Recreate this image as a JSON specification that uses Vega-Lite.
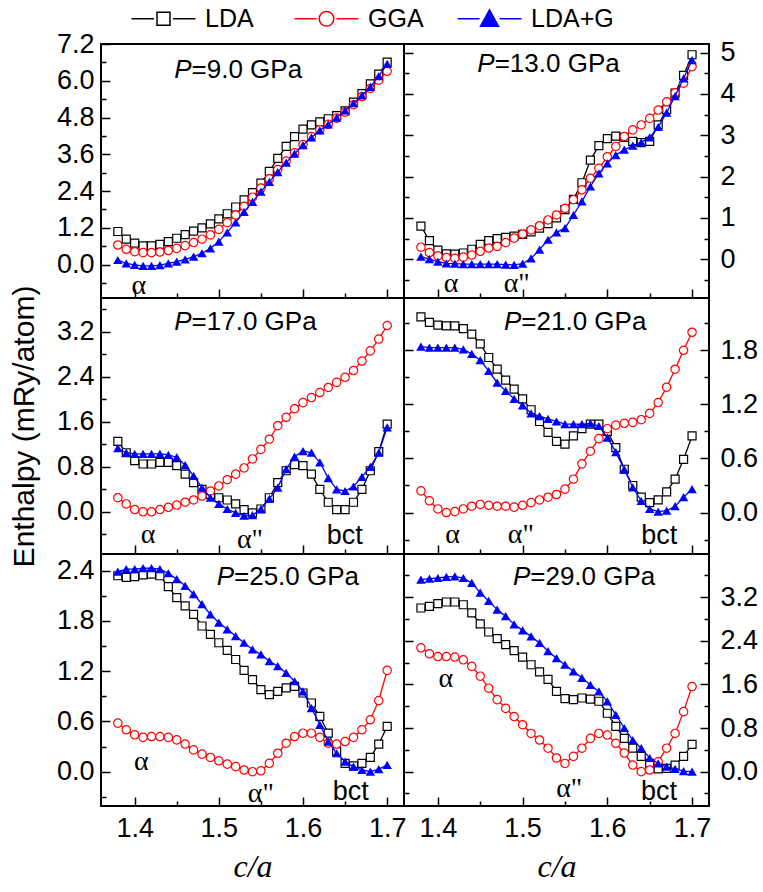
{
  "$schema": "https://vega.github.io/schema/vega-lite/v6.json",
  "padding": {"left": 8, "top": 6, "right": 5, "bottom": 5},
  "background": "white",
  "datasets": {
    "h": [
      {"P":9,"ca":1.38,"LDA":1.08,"GGA":0.64,"LDAG":0.15},{"P":9,"ca":1.39,"LDA":0.83,"GGA":0.50,"LDAG":0.04},{"P":9,"ca":1.40,"LDA":0.70,"GGA":0.42,"LDAG":-0.01},{"P":9,"ca":1.41,"LDA":0.61,"GGA":0.39,"LDAG":-0.04},{"P":9,"ca":1.42,"LDA":0.61,"GGA":0.39,"LDAG":-0.04},{"P":9,"ca":1.43,"LDA":0.66,"GGA":0.41,"LDAG":-0.02},{"P":9,"ca":1.44,"LDA":0.75,"GGA":0.46,"LDAG":0.04},{"P":9,"ca":1.45,"LDA":0.86,"GGA":0.53,"LDAG":0.10},{"P":9,"ca":1.46,"LDA":0.98,"GGA":0.62,"LDAG":0.17},{"P":9,"ca":1.47,"LDA":1.09,"GGA":0.72,"LDAG":0.26},{"P":9,"ca":1.48,"LDA":1.20,"GGA":0.83,"LDAG":0.37},{"P":9,"ca":1.49,"LDA":1.33,"GGA":0.97,"LDAG":0.53},{"P":9,"ca":1.50,"LDA":1.49,"GGA":1.15,"LDAG":0.75},{"P":9,"ca":1.51,"LDA":1.66,"GGA":1.37,"LDAG":1.05},{"P":9,"ca":1.52,"LDA":1.88,"GGA":1.62,"LDAG":1.38},{"P":9,"ca":1.53,"LDA":2.11,"GGA":1.90,"LDAG":1.72},{"P":9,"ca":1.54,"LDA":2.35,"GGA":2.20,"LDAG":2.05},{"P":9,"ca":1.55,"LDA":2.66,"GGA":2.50,"LDAG":2.38},{"P":9,"ca":1.56,"LDA":3.04,"GGA":2.80,"LDAG":2.70},{"P":9,"ca":1.57,"LDA":3.47,"GGA":3.10,"LDAG":3.02},{"P":9,"ca":1.58,"LDA":3.86,"GGA":3.38,"LDAG":3.33},{"P":9,"ca":1.59,"LDA":4.18,"GGA":3.65,"LDAG":3.62},{"P":9,"ca":1.60,"LDA":4.42,"GGA":3.92,"LDAG":3.90},{"P":9,"ca":1.61,"LDA":4.56,"GGA":4.18,"LDAG":4.15},{"P":9,"ca":1.62,"LDA":4.66,"GGA":4.40,"LDAG":4.38},{"P":9,"ca":1.63,"LDA":4.76,"GGA":4.58,"LDAG":4.58},{"P":9,"ca":1.64,"LDA":4.86,"GGA":4.78,"LDAG":4.80},{"P":9,"ca":1.65,"LDA":5.02,"GGA":4.98,"LDAG":5.03},{"P":9,"ca":1.66,"LDA":5.30,"GGA":5.22,"LDAG":5.27},{"P":9,"ca":1.67,"LDA":5.58,"GGA":5.48,"LDAG":5.52},{"P":9,"ca":1.68,"LDA":5.90,"GGA":5.75,"LDAG":5.80},{"P":9,"ca":1.69,"LDA":6.22,"GGA":6.02,"LDAG":6.15},{"P":9,"ca":1.70,"LDA":6.61,"GGA":6.31,"LDAG":6.55},
      {"P":13,"ca":1.38,"LDA":0.80,"GGA":0.29,"LDAG":0.06},{"P":13,"ca":1.39,"LDA":0.45,"GGA":0.16,"LDAG":0.00},{"P":13,"ca":1.40,"LDA":0.22,"GGA":0.08,"LDAG":-0.06},{"P":13,"ca":1.41,"LDA":0.13,"GGA":0.04,"LDAG":-0.10},{"P":13,"ca":1.42,"LDA":0.12,"GGA":0.02,"LDAG":-0.11},{"P":13,"ca":1.43,"LDA":0.15,"GGA":0.05,"LDAG":-0.12},{"P":13,"ca":1.44,"LDA":0.24,"GGA":0.10,"LDAG":-0.12},{"P":13,"ca":1.45,"LDA":0.36,"GGA":0.19,"LDAG":-0.12},{"P":13,"ca":1.46,"LDA":0.45,"GGA":0.27,"LDAG":-0.12},{"P":13,"ca":1.47,"LDA":0.50,"GGA":0.31,"LDAG":-0.12},{"P":13,"ca":1.48,"LDA":0.53,"GGA":0.40,"LDAG":-0.13},{"P":13,"ca":1.49,"LDA":0.56,"GGA":0.51,"LDAG":-0.14},{"P":13,"ca":1.50,"LDA":0.60,"GGA":0.61,"LDAG":-0.11},{"P":13,"ca":1.51,"LDA":0.66,"GGA":0.71,"LDAG":0.02},{"P":13,"ca":1.52,"LDA":0.75,"GGA":0.81,"LDAG":0.23},{"P":13,"ca":1.53,"LDA":0.86,"GGA":0.95,"LDAG":0.47},{"P":13,"ca":1.54,"LDA":1.00,"GGA":1.07,"LDAG":0.65},{"P":13,"ca":1.55,"LDA":1.20,"GGA":1.23,"LDAG":0.75},{"P":13,"ca":1.56,"LDA":1.45,"GGA":1.44,"LDAG":1.07},{"P":13,"ca":1.57,"LDA":1.85,"GGA":1.68,"LDAG":1.40},{"P":13,"ca":1.58,"LDA":2.40,"GGA":1.96,"LDAG":1.76},{"P":13,"ca":1.59,"LDA":2.75,"GGA":2.20,"LDAG":2.08},{"P":13,"ca":1.60,"LDA":2.92,"GGA":2.48,"LDAG":2.32},{"P":13,"ca":1.61,"LDA":2.98,"GGA":2.73,"LDAG":2.52},{"P":13,"ca":1.62,"LDA":2.95,"GGA":2.97,"LDAG":2.65},{"P":13,"ca":1.63,"LDA":2.85,"GGA":3.13,"LDAG":2.75},{"P":13,"ca":1.64,"LDA":2.82,"GGA":3.25,"LDAG":2.83},{"P":13,"ca":1.65,"LDA":2.85,"GGA":3.41,"LDAG":2.95},{"P":13,"ca":1.66,"LDA":3.25,"GGA":3.61,"LDAG":3.20},{"P":13,"ca":1.67,"LDA":3.62,"GGA":3.81,"LDAG":3.55},{"P":13,"ca":1.68,"LDA":4.02,"GGA":4.03,"LDAG":3.95},{"P":13,"ca":1.69,"LDA":4.45,"GGA":4.26,"LDAG":4.38},{"P":13,"ca":1.70,"LDA":4.95,"GGA":4.66,"LDAG":4.82},
      {"P":17,"ca":1.38,"LDA":1.25,"GGA":0.25,"LDAG":1.13},{"P":17,"ca":1.39,"LDA":1.05,"GGA":0.14,"LDAG":1.05},{"P":17,"ca":1.40,"LDA":0.91,"GGA":0.04,"LDAG":1.03},{"P":17,"ca":1.41,"LDA":0.85,"GGA":0.00,"LDAG":1.03},{"P":17,"ca":1.42,"LDA":0.85,"GGA":0.00,"LDAG":1.03},{"P":17,"ca":1.43,"LDA":0.88,"GGA":0.04,"LDAG":1.03},{"P":17,"ca":1.44,"LDA":0.88,"GGA":0.08,"LDAG":1.01},{"P":17,"ca":1.45,"LDA":0.82,"GGA":0.12,"LDAG":0.97},{"P":17,"ca":1.46,"LDA":0.67,"GGA":0.17,"LDAG":0.83},{"P":17,"ca":1.47,"LDA":0.52,"GGA":0.21,"LDAG":0.64},{"P":17,"ca":1.48,"LDA":0.40,"GGA":0.28,"LDAG":0.43},{"P":17,"ca":1.49,"LDA":0.31,"GGA":0.37,"LDAG":0.25},{"P":17,"ca":1.50,"LDA":0.25,"GGA":0.46,"LDAG":0.14},{"P":17,"ca":1.51,"LDA":0.21,"GGA":0.57,"LDAG":0.05},{"P":17,"ca":1.52,"LDA":0.14,"GGA":0.67,"LDAG":-0.02},{"P":17,"ca":1.53,"LDA":0.04,"GGA":0.78,"LDAG":-0.07},{"P":17,"ca":1.54,"LDA":-0.02,"GGA":0.94,"LDAG":-0.06},{"P":17,"ca":1.55,"LDA":0.05,"GGA":1.11,"LDAG":0.05},{"P":17,"ca":1.56,"LDA":0.25,"GGA":1.29,"LDAG":0.23},{"P":17,"ca":1.57,"LDA":0.52,"GGA":1.53,"LDAG":0.43},{"P":17,"ca":1.58,"LDA":0.73,"GGA":1.68,"LDAG":0.76},{"P":17,"ca":1.59,"LDA":0.84,"GGA":1.83,"LDAG":0.98},{"P":17,"ca":1.60,"LDA":0.82,"GGA":1.94,"LDAG":1.08},{"P":17,"ca":1.61,"LDA":0.67,"GGA":2.03,"LDAG":1.05},{"P":17,"ca":1.62,"LDA":0.40,"GGA":2.12,"LDAG":0.88},{"P":17,"ca":1.63,"LDA":0.17,"GGA":2.21,"LDAG":0.60},{"P":17,"ca":1.64,"LDA":0.04,"GGA":2.30,"LDAG":0.40},{"P":17,"ca":1.65,"LDA":0.04,"GGA":2.39,"LDAG":0.37},{"P":17,"ca":1.66,"LDA":0.17,"GGA":2.51,"LDAG":0.45},{"P":17,"ca":1.67,"LDA":0.40,"GGA":2.68,"LDAG":0.62},{"P":17,"ca":1.68,"LDA":0.73,"GGA":2.86,"LDAG":0.80},{"P":17,"ca":1.69,"LDA":1.07,"GGA":3.07,"LDAG":1.05},{"P":17,"ca":1.70,"LDA":1.56,"GGA":3.31,"LDAG":1.50},
      {"P":21,"ca":1.38,"LDA":2.17,"GGA":0.24,"LDAG":1.84},{"P":21,"ca":1.39,"LDA":2.11,"GGA":0.13,"LDAG":1.83},{"P":21,"ca":1.40,"LDA":2.08,"GGA":0.04,"LDAG":1.83},{"P":21,"ca":1.41,"LDA":2.07,"GGA":0.00,"LDAG":1.83},{"P":21,"ca":1.42,"LDA":2.07,"GGA":0.01,"LDAG":1.83},{"P":21,"ca":1.43,"LDA":2.04,"GGA":0.04,"LDAG":1.81},{"P":21,"ca":1.44,"LDA":1.98,"GGA":0.07,"LDAG":1.76},{"P":21,"ca":1.45,"LDA":1.87,"GGA":0.09,"LDAG":1.69},{"P":21,"ca":1.46,"LDA":1.72,"GGA":0.08,"LDAG":1.57},{"P":21,"ca":1.47,"LDA":1.59,"GGA":0.07,"LDAG":1.44},{"P":21,"ca":1.48,"LDA":1.47,"GGA":0.07,"LDAG":1.35},{"P":21,"ca":1.49,"LDA":1.37,"GGA":0.06,"LDAG":1.26},{"P":21,"ca":1.50,"LDA":1.26,"GGA":0.08,"LDAG":1.19},{"P":21,"ca":1.51,"LDA":1.14,"GGA":0.11,"LDAG":1.10},{"P":21,"ca":1.52,"LDA":1.01,"GGA":0.14,"LDAG":1.07},{"P":21,"ca":1.53,"LDA":0.89,"GGA":0.17,"LDAG":1.04},{"P":21,"ca":1.54,"LDA":0.79,"GGA":0.20,"LDAG":1.01},{"P":21,"ca":1.55,"LDA":0.76,"GGA":0.26,"LDAG":0.98},{"P":21,"ca":1.56,"LDA":0.85,"GGA":0.37,"LDAG":0.98},{"P":21,"ca":1.57,"LDA":0.93,"GGA":0.54,"LDAG":0.98},{"P":21,"ca":1.58,"LDA":0.98,"GGA":0.68,"LDAG":0.99},{"P":21,"ca":1.59,"LDA":0.98,"GGA":0.82,"LDAG":0.96},{"P":21,"ca":1.60,"LDA":0.90,"GGA":0.93,"LDAG":0.83},{"P":21,"ca":1.61,"LDA":0.72,"GGA":0.97,"LDAG":0.67},{"P":21,"ca":1.62,"LDA":0.48,"GGA":0.99,"LDAG":0.48},{"P":21,"ca":1.63,"LDA":0.30,"GGA":1.00,"LDAG":0.28},{"P":21,"ca":1.64,"LDA":0.17,"GGA":1.03,"LDAG":0.13},{"P":21,"ca":1.65,"LDA":0.11,"GGA":1.10,"LDAG":0.04},{"P":21,"ca":1.66,"LDA":0.14,"GGA":1.22,"LDAG":0.01},{"P":21,"ca":1.67,"LDA":0.23,"GGA":1.39,"LDAG":0.02},{"P":21,"ca":1.68,"LDA":0.37,"GGA":1.59,"LDAG":0.07},{"P":21,"ca":1.69,"LDA":0.59,"GGA":1.80,"LDAG":0.17},{"P":21,"ca":1.70,"LDA":0.85,"GGA":2.00,"LDAG":0.26},
      {"P":25,"ca":1.38,"LDA":2.34,"GGA":0.58,"LDAG":2.39},{"P":25,"ca":1.39,"LDA":2.32,"GGA":0.50,"LDAG":2.42},{"P":25,"ca":1.40,"LDA":2.33,"GGA":0.44,"LDAG":2.42},{"P":25,"ca":1.41,"LDA":2.35,"GGA":0.41,"LDAG":2.43},{"P":25,"ca":1.42,"LDA":2.36,"GGA":0.42,"LDAG":2.43},{"P":25,"ca":1.43,"LDA":2.34,"GGA":0.42,"LDAG":2.42},{"P":25,"ca":1.44,"LDA":2.21,"GGA":0.41,"LDAG":2.37},{"P":25,"ca":1.45,"LDA":2.08,"GGA":0.38,"LDAG":2.30},{"P":25,"ca":1.46,"LDA":1.98,"GGA":0.33,"LDAG":2.22},{"P":25,"ca":1.47,"LDA":1.88,"GGA":0.26,"LDAG":2.12},{"P":25,"ca":1.48,"LDA":1.74,"GGA":0.21,"LDAG":2.00},{"P":25,"ca":1.49,"LDA":1.64,"GGA":0.17,"LDAG":1.88},{"P":25,"ca":1.50,"LDA":1.54,"GGA":0.13,"LDAG":1.78},{"P":25,"ca":1.51,"LDA":1.45,"GGA":0.09,"LDAG":1.70},{"P":25,"ca":1.52,"LDA":1.34,"GGA":0.06,"LDAG":1.62},{"P":25,"ca":1.53,"LDA":1.21,"GGA":0.02,"LDAG":1.54},{"P":25,"ca":1.54,"LDA":1.10,"GGA":0.00,"LDAG":1.46},{"P":25,"ca":1.55,"LDA":0.98,"GGA":0.01,"LDAG":1.40},{"P":25,"ca":1.56,"LDA":0.92,"GGA":0.10,"LDAG":1.32},{"P":25,"ca":1.57,"LDA":0.96,"GGA":0.22,"LDAG":1.26},{"P":25,"ca":1.58,"LDA":1.00,"GGA":0.34,"LDAG":1.18},{"P":25,"ca":1.59,"LDA":1.02,"GGA":0.42,"LDAG":1.08},{"P":25,"ca":1.60,"LDA":0.94,"GGA":0.46,"LDAG":0.96},{"P":25,"ca":1.61,"LDA":0.82,"GGA":0.46,"LDAG":0.76},{"P":25,"ca":1.62,"LDA":0.66,"GGA":0.41,"LDAG":0.56},{"P":25,"ca":1.63,"LDA":0.46,"GGA":0.34,"LDAG":0.36},{"P":25,"ca":1.64,"LDA":0.24,"GGA":0.33,"LDAG":0.22},{"P":25,"ca":1.65,"LDA":0.10,"GGA":0.36,"LDAG":0.12},{"P":25,"ca":1.66,"LDA":0.07,"GGA":0.41,"LDAG":0.06},{"P":25,"ca":1.67,"LDA":0.10,"GGA":0.50,"LDAG":0.02},{"P":25,"ca":1.68,"LDA":0.17,"GGA":0.62,"LDAG":0.00},{"P":25,"ca":1.69,"LDA":0.33,"GGA":0.85,"LDAG":0.03},{"P":25,"ca":1.70,"LDA":0.54,"GGA":1.21,"LDAG":0.08},
      {"P":29,"ca":1.38,"LDA":3.00,"GGA":2.27,"LDAG":3.52},{"P":29,"ca":1.39,"LDA":3.03,"GGA":2.16,"LDAG":3.54},{"P":29,"ca":1.40,"LDA":3.08,"GGA":2.11,"LDAG":3.55},{"P":29,"ca":1.41,"LDA":3.11,"GGA":2.11,"LDAG":3.57},{"P":29,"ca":1.42,"LDA":3.11,"GGA":2.10,"LDAG":3.58},{"P":29,"ca":1.43,"LDA":3.06,"GGA":2.05,"LDAG":3.55},{"P":29,"ca":1.44,"LDA":2.91,"GGA":1.93,"LDAG":3.46},{"P":29,"ca":1.45,"LDA":2.71,"GGA":1.75,"LDAG":3.28},{"P":29,"ca":1.46,"LDA":2.56,"GGA":1.53,"LDAG":3.13},{"P":29,"ca":1.47,"LDA":2.44,"GGA":1.32,"LDAG":2.97},{"P":29,"ca":1.48,"LDA":2.33,"GGA":1.16,"LDAG":2.85},{"P":29,"ca":1.49,"LDA":2.22,"GGA":1.01,"LDAG":2.70},{"P":29,"ca":1.50,"LDA":2.10,"GGA":0.86,"LDAG":2.59},{"P":29,"ca":1.51,"LDA":1.96,"GGA":0.70,"LDAG":2.48},{"P":29,"ca":1.52,"LDA":1.83,"GGA":0.58,"LDAG":2.36},{"P":29,"ca":1.53,"LDA":1.69,"GGA":0.43,"LDAG":2.21},{"P":29,"ca":1.54,"LDA":1.47,"GGA":0.25,"LDAG":2.08},{"P":29,"ca":1.55,"LDA":1.34,"GGA":0.15,"LDAG":1.96},{"P":29,"ca":1.56,"LDA":1.32,"GGA":0.28,"LDAG":1.84},{"P":29,"ca":1.57,"LDA":1.35,"GGA":0.43,"LDAG":1.72},{"P":29,"ca":1.58,"LDA":1.33,"GGA":0.61,"LDAG":1.59},{"P":29,"ca":1.59,"LDA":1.29,"GGA":0.70,"LDAG":1.47},{"P":29,"ca":1.60,"LDA":1.07,"GGA":0.67,"LDAG":1.29},{"P":29,"ca":1.61,"LDA":0.83,"GGA":0.52,"LDAG":1.04},{"P":29,"ca":1.62,"LDA":0.61,"GGA":0.34,"LDAG":0.80},{"P":29,"ca":1.63,"LDA":0.43,"GGA":0.12,"LDAG":0.58},{"P":29,"ca":1.64,"LDA":0.28,"GGA":0.00,"LDAG":0.43},{"P":29,"ca":1.65,"LDA":0.15,"GGA":0.03,"LDAG":0.25},{"P":29,"ca":1.66,"LDA":0.05,"GGA":0.18,"LDAG":0.15},{"P":29,"ca":1.67,"LDA":0.06,"GGA":0.43,"LDAG":0.09},{"P":29,"ca":1.68,"LDA":0.12,"GGA":0.70,"LDAG":0.05},{"P":29,"ca":1.69,"LDA":0.28,"GGA":1.10,"LDAG":0.01},{"P":29,"ca":1.70,"LDA":0.50,"GGA":1.56,"LDAG":0.00}
    ],
    "labels": [
      {"P":9,"ca":1.405,"H":-0.69,"t":"α","f":"g"},
      {"P":13,"ca":1.4155,"H":-0.59,"t":"α","f":"g"},
      {"P":13,"ca":1.493,"H":-0.59,"t":"α\"","f":"g"},
      {"P":17,"ca":1.416,"H":-0.42,"t":"α","f":"g"},
      {"P":17,"ca":1.537,"H":-0.50,"t":"α\"","f":"g"},
      {"P":17,"ca":1.6496,"H":-0.43,"t":"bct","f":"s"},
      {"P":21,"ca":1.4173,"H":-0.25,"t":"α","f":"g"},
      {"P":21,"ca":1.498,"H":-0.25,"t":"α\"","f":"g"},
      {"P":21,"ca":1.6614,"H":-0.26,"t":"bct","f":"s"},
      {"P":25,"ca":1.408,"H":0.11,"t":"α","f":"g"},
      {"P":25,"ca":1.55,"H":-0.27,"t":"α\"","f":"g"},
      {"P":25,"ca":1.6567,"H":-0.24,"t":"bct","f":"s"},
      {"P":29,"ca":1.4093,"H":1.70,"t":"α","f":"g"},
      {"P":29,"ca":1.555,"H":-0.32,"t":"α\"","f":"g"},
      {"P":29,"ca":1.661,"H":-0.37,"t":"bct","f":"s"}
    ],
    "titles": [
      {"P":9,"ca":1.4676,"H":6.36,"v":"=9.0 GPa"},
      {"P":13,"ca":1.467,"H":4.73,"v":"=13.0 GPa"},
      {"P":17,"ca":1.4676,"H":3.37,"v":"=17.0 GPa"},
      {"P":21,"ca":1.4985,"H":2.11,"v":"=21.0 GPa"},
      {"P":25,"ca":1.518,"H":2.32,"v":"=25.0 GPa"},
      {"P":29,"ca":1.509,"H":3.56,"v":"=29.0 GPa"}
    ]
  },
  "config": {
    "view": {"stroke": "#000000", "strokeWidth": 2},
    "font": "Liberation Sans",
    "axis": {
      "domain": false, "grid": false, "tickColor": "#000000", "tickWidth": 1.5,
      "labelFont": "Liberation Sans", "labelFontSize": 27, "labelColor": "#000000",
      "labelOverlap": false, "labelFlush": false, "labelBound": false,
      "titleColor": "#000000", "titleFontWeight": "normal"
    },
    "text": {"color": "#000000"}
  },
  "columns": 2,
  "spacing": 0,
  "bounds": "flush",
  "concat": [
    {
      "width": 303, "height": 254,
      "data": {"name": "h"},
      "transform": [{"filter": "datum.P === 9"}],
      "resolve": {"axis": {"y": "independent"}},
      "layer": [
        {"mark": {"type": "line", "strokeWidth": 1.3},
         "encoding": {
           "x": {"field": "ca", "type": "quantitative", "scale": {"domain": [1.36, 1.72], "nice": false, "zero": false},
                 "axis": {"values": [1.4,1.45,1.5,1.55,1.6,1.65,1.7], "labels": false, "title": null,
                          "tickSize": {"condition": {"test": "abs(datum.value*10-round(datum.value*10))<0.01", "value": -9}, "value": -5}}},
           "y": {"field": "LDA", "type": "quantitative", "scale": {"domain": [-1.09, 7.2], "nice": false, "zero": false},
                 "axis": {"values": [-0.6,0,0.6,1.2,1.8,2.4,3,3.6,4.2,4.8,5.4,6,6.6,7.2], "title": null, "labelPadding": 16,
                          "labelExpr": "abs(datum.value/1.2-round(datum.value/1.2))<0.01 ? format(datum.value,'.1f') : ''",
                          "tickSize": {"condition": {"test": "abs(datum.value/1.2-round(datum.value/1.2))<0.01", "value": -9}, "value": -5}}},
           "color": {"datum": "LDA",
                     "scale": {"domain": ["LDA", "GGA", "LDA+G"], "range": ["#000000", "#ff0000", "#0000ff"]},
                     "legend": {"orient": "none", "legendX": 50, "legendY": -38, "direction": "horizontal", "columns": 3, "gridAlign": "all", "title": null,
                                "symbolSize": 400, "symbolStrokeWidth": 1.5, "labelFontSize": 25, "labelFont": "Liberation Sans",
                                "labelColor": "#000000", "labelOffset": 29, "columnPadding": 3,
                                "encode": {"symbols": {"update": {
                                  "shape": {"signal": "datum.value === 'LDA' ? 'M-3.2,0H-0.95M0.95,0H3.2M-0.65,-0.65H0.65V0.65H-0.65ZM-0.65,-0.65V0.65H0.65V-0.65Z' : datum.value === 'GGA' ? 'M-3.2,0H-1M1,0H3.2M0.73,0A0.73,0.73 0 1,1 -0.73,0A0.73,0.73 0 1,1 0.73,0ZM0.73,0A0.73,0.73 0 1,0 -0.73,0A0.73,0.73 0 1,0 0.73,0Z' : 'M-3.2,0H-1M1,0H3.2M0,-0.9L0.9,0.75H-0.9Z'"}}}}}}
         }},
        {"mark": {"type": "point", "shape": "square", "filled": false, "fill": "#ffffff", "size": 64, "strokeWidth": 1.2, "opacity": 1},
         "encoding": {"x": {"field": "ca", "type": "quantitative"}, "y": {"field": "LDA", "type": "quantitative", "axis": null}, "color": {"datum": "LDA"}}},
        {"mark": {"type": "line", "strokeWidth": 1.3},
         "encoding": {"x": {"field": "ca", "type": "quantitative"}, "y": {"field": "GGA", "type": "quantitative", "axis": null}, "color": {"datum": "GGA"}}},
        {"mark": {"type": "point", "shape": "circle", "filled": false, "fill": "#ffffff", "size": 70, "strokeWidth": 1.2, "opacity": 1},
         "encoding": {"x": {"field": "ca", "type": "quantitative"}, "y": {"field": "GGA", "type": "quantitative", "axis": null}, "color": {"datum": "GGA"}}},
        {"mark": {"type": "line", "strokeWidth": 1.3},
         "encoding": {"x": {"field": "ca", "type": "quantitative"}, "y": {"field": "LDAG", "type": "quantitative", "axis": null}, "color": {"datum": "LDA+G"}}},
        {"mark": {"type": "point", "shape": "triangle-up", "filled": true, "size": 90, "opacity": 1},
         "encoding": {"x": {"field": "ca", "type": "quantitative"}, "y": {"field": "LDAG", "type": "quantitative", "axis": null}, "color": {"datum": "LDA+G"}}},
        {"data": {"name": "labels"}, "transform": [{"filter": "datum.P === 9 && datum.f === 'g'"}],
         "mark": {"type": "text", "font": "Liberation Serif", "fontSize": 28, "baseline": "middle"},
         "encoding": {"x": {"field": "ca", "type": "quantitative"}, "y": {"field": "H", "type": "quantitative", "axis": null}, "text": {"field": "t"}}},
        {"data": {"name": "titles"}, "transform": [{"filter": "datum.P === 9"}],
         "mark": {"type": "text", "text": "P", "fontStyle": "italic", "align": "right", "baseline": "middle", "fontSize": 26},
         "encoding": {"x": {"field": "ca", "type": "quantitative"}, "y": {"field": "H", "type": "quantitative", "axis": null}}},
        {"data": {"name": "titles"}, "transform": [{"filter": "datum.P === 9"}],
         "mark": {"type": "text", "align": "left", "baseline": "middle", "fontSize": 26},
         "encoding": {"x": {"field": "ca", "type": "quantitative"}, "y": {"field": "H", "type": "quantitative", "axis": null}, "text": {"field": "v"}}}
      ]
    },
    {
      "width": 305, "height": 254,
      "data": {"name": "h"},
      "transform": [{"filter": "datum.P === 13"}],
      "resolve": {"axis": {"y": "independent"}},
      "layer": [
        {"mark": {"type": "line", "strokeWidth": 1.3},
         "encoding": {
           "x": {"field": "ca", "type": "quantitative", "scale": {"domain": [1.36, 1.72], "nice": false, "zero": false},
                 "axis": {"values": [1.4,1.45,1.5,1.55,1.6,1.65,1.7], "labels": false, "title": null,
                          "tickSize": {"condition": {"test": "abs(datum.value*10-round(datum.value*10))<0.01", "value": -9}, "value": -5}}},
           "y": {"field": "LDA", "type": "quantitative", "scale": {"domain": [-0.94, 5.21], "nice": false, "zero": false},
                 "axis": {"orient": "right", "values": [-0.5,0,0.5,1,1.5,2,2.5,3,3.5,4,4.5,5], "title": null, "labelPadding": 20,
                          "labelExpr": "abs(datum.value-round(datum.value))<0.01 ? format(datum.value,'d') : ''",
                          "tickSize": {"condition": {"test": "abs(datum.value-round(datum.value))<0.01", "value": -9}, "value": -5}}},
           "color": {"datum": "LDA"}
         }},
        {"mark": {"type": "point", "shape": "square", "filled": false, "fill": "#ffffff", "size": 64, "strokeWidth": 1.2, "opacity": 1},
         "encoding": {"x": {"field": "ca", "type": "quantitative"}, "y": {"field": "LDA", "type": "quantitative", "axis": null}, "color": {"datum": "LDA"}}},
        {"mark": {"type": "line", "strokeWidth": 1.3},
         "encoding": {"x": {"field": "ca", "type": "quantitative"},
                      "y": {"field": "GGA", "type": "quantitative",
                            "axis": {"orient": "left", "values": [-0.5,0,0.5,1,1.5,2,2.5,3,3.5,4,4.5,5], "title": null, "labels": false,
                                     "tickSize": {"condition": {"test": "abs(datum.value-round(datum.value))<0.01", "value": -9}, "value": -5}}},
                      "color": {"datum": "GGA"}}},
        {"mark": {"type": "point", "shape": "circle", "filled": false, "fill": "#ffffff", "size": 70, "strokeWidth": 1.2, "opacity": 1},
         "encoding": {"x": {"field": "ca", "type": "quantitative"}, "y": {"field": "GGA", "type": "quantitative", "axis": null}, "color": {"datum": "GGA"}}},
        {"mark": {"type": "line", "strokeWidth": 1.3},
         "encoding": {"x": {"field": "ca", "type": "quantitative"}, "y": {"field": "LDAG", "type": "quantitative", "axis": null}, "color": {"datum": "LDA+G"}}},
        {"mark": {"type": "point", "shape": "triangle-up", "filled": true, "size": 90, "opacity": 1},
         "encoding": {"x": {"field": "ca", "type": "quantitative"}, "y": {"field": "LDAG", "type": "quantitative", "axis": null}, "color": {"datum": "LDA+G"}}},
        {"data": {"name": "labels"}, "transform": [{"filter": "datum.P === 13 && datum.f === 'g'"}],
         "mark": {"type": "text", "font": "Liberation Serif", "fontSize": 28, "baseline": "middle"},
         "encoding": {"x": {"field": "ca", "type": "quantitative"}, "y": {"field": "H", "type": "quantitative", "axis": null}, "text": {"field": "t"}}},
        {"data": {"name": "titles"}, "transform": [{"filter": "datum.P === 13"}],
         "mark": {"type": "text", "text": "P", "fontStyle": "italic", "align": "right", "baseline": "middle", "fontSize": 26},
         "encoding": {"x": {"field": "ca", "type": "quantitative"}, "y": {"field": "H", "type": "quantitative", "axis": null}}},
        {"data": {"name": "titles"}, "transform": [{"filter": "datum.P === 13"}],
         "mark": {"type": "text", "align": "left", "baseline": "middle", "fontSize": 26},
         "encoding": {"x": {"field": "ca", "type": "quantitative"}, "y": {"field": "H", "type": "quantitative", "axis": null}, "text": {"field": "v"}}}
      ]
    },
    {
      "width": 303, "height": 256,
      "data": {"name": "h"},
      "transform": [{"filter": "datum.P === 17"}],
      "resolve": {"axis": {"y": "independent"}},
      "layer": [
        {"mark": {"type": "line", "strokeWidth": 1.3},
         "encoding": {
           "x": {"field": "ca", "type": "quantitative", "scale": {"domain": [1.36, 1.72], "nice": false, "zero": false},
                 "axis": {"values": [1.4,1.45,1.5,1.55,1.6,1.65,1.7], "labels": false, "title": null,
                          "tickSize": {"condition": {"test": "abs(datum.value*10-round(datum.value*10))<0.01", "value": -9}, "value": -5}}},
           "y": {"field": "LDA", "type": "quantitative", "scale": {"domain": [-0.75, 3.8], "nice": false, "zero": false},
                 "axis": {"values": [-0.4,0,0.4,0.8,1.2,1.6,2,2.4,2.8,3.2,3.6], "labelPadding": 16,
                          "title": "Enthalpy (mRy/atom)", "titleFont": "Liberation Sans", "titleFontSize": 30, "titlePadding": 17,
                          "labelExpr": "abs(datum.value/0.8-round(datum.value/0.8))<0.01 ? format(datum.value,'.1f') : ''",
                          "tickSize": {"condition": {"test": "abs(datum.value/0.8-round(datum.value/0.8))<0.01", "value": -9}, "value": -5}}},
           "color": {"datum": "LDA"}
         }},
        {"mark": {"type": "point", "shape": "square", "filled": false, "fill": "#ffffff", "size": 64, "strokeWidth": 1.2, "opacity": 1},
         "encoding": {"x": {"field": "ca", "type": "quantitative"}, "y": {"field": "LDA", "type": "quantitative", "axis": null}, "color": {"datum": "LDA"}}},
        {"mark": {"type": "line", "strokeWidth": 1.3},
         "encoding": {"x": {"field": "ca", "type": "quantitative"}, "y": {"field": "GGA", "type": "quantitative", "axis": null}, "color": {"datum": "GGA"}}},
        {"mark": {"type": "point", "shape": "circle", "filled": false, "fill": "#ffffff", "size": 70, "strokeWidth": 1.2, "opacity": 1},
         "encoding": {"x": {"field": "ca", "type": "quantitative"}, "y": {"field": "GGA", "type": "quantitative", "axis": null}, "color": {"datum": "GGA"}}},
        {"mark": {"type": "line", "strokeWidth": 1.3},
         "encoding": {"x": {"field": "ca", "type": "quantitative"}, "y": {"field": "LDAG", "type": "quantitative", "axis": null}, "color": {"datum": "LDA+G"}}},
        {"mark": {"type": "point", "shape": "triangle-up", "filled": true, "size": 90, "opacity": 1},
         "encoding": {"x": {"field": "ca", "type": "quantitative"}, "y": {"field": "LDAG", "type": "quantitative", "axis": null}, "color": {"datum": "LDA+G"}}},
        {"data": {"name": "labels"}, "transform": [{"filter": "datum.P === 17 && datum.f === 'g'"}],
         "mark": {"type": "text", "font": "Liberation Serif", "fontSize": 28, "baseline": "middle"},
         "encoding": {"x": {"field": "ca", "type": "quantitative"}, "y": {"field": "H", "type": "quantitative", "axis": null}, "text": {"field": "t"}}},
        {"data": {"name": "labels"}, "transform": [{"filter": "datum.P === 17 && datum.f === 's'"}],
         "mark": {"type": "text", "fontSize": 27, "baseline": "middle"},
         "encoding": {"x": {"field": "ca", "type": "quantitative"}, "y": {"field": "H", "type": "quantitative", "axis": null}, "text": {"field": "t"}}},
        {"data": {"name": "titles"}, "transform": [{"filter": "datum.P === 17"}],
         "mark": {"type": "text", "text": "P", "fontStyle": "italic", "align": "right", "baseline": "middle", "fontSize": 26},
         "encoding": {"x": {"field": "ca", "type": "quantitative"}, "y": {"field": "H", "type": "quantitative", "axis": null}}},
        {"data": {"name": "titles"}, "transform": [{"filter": "datum.P === 17"}],
         "mark": {"type": "text", "align": "left", "baseline": "middle", "fontSize": 26},
         "encoding": {"x": {"field": "ca", "type": "quantitative"}, "y": {"field": "H", "type": "quantitative", "axis": null}, "text": {"field": "v"}}}
      ]
    },
    {
      "width": 305, "height": 256,
      "data": {"name": "h"},
      "transform": [{"filter": "datum.P === 21"}],
      "resolve": {"axis": {"y": "independent"}},
      "layer": [
        {"mark": {"type": "line", "strokeWidth": 1.3},
         "encoding": {
           "x": {"field": "ca", "type": "quantitative", "scale": {"domain": [1.36, 1.72], "nice": false, "zero": false},
                 "axis": {"values": [1.4,1.45,1.5,1.55,1.6,1.65,1.7], "labels": false, "title": null,
                          "tickSize": {"condition": {"test": "abs(datum.value*10-round(datum.value*10))<0.01", "value": -9}, "value": -5}}},
           "y": {"field": "LDA", "type": "quantitative", "scale": {"domain": [-0.46, 2.38], "nice": false, "zero": false},
                 "axis": {"orient": "right", "values": [-0.3,0,0.3,0.6,0.9,1.2,1.5,1.8,2.1], "title": null, "labelPadding": 20,
                          "labelExpr": "abs(datum.value/0.6-round(datum.value/0.6))<0.01 ? format(datum.value,'.1f') : ''",
                          "tickSize": {"condition": {"test": "abs(datum.value/0.6-round(datum.value/0.6))<0.01", "value": -9}, "value": -5}}},
           "color": {"datum": "LDA"}
         }},
        {"mark": {"type": "point", "shape": "square", "filled": false, "fill": "#ffffff", "size": 64, "strokeWidth": 1.2, "opacity": 1},
         "encoding": {"x": {"field": "ca", "type": "quantitative"}, "y": {"field": "LDA", "type": "quantitative", "axis": null}, "color": {"datum": "LDA"}}},
        {"mark": {"type": "line", "strokeWidth": 1.3},
         "encoding": {"x": {"field": "ca", "type": "quantitative"},
                      "y": {"field": "GGA", "type": "quantitative",
                            "axis": {"orient": "left", "values": [-0.3,0,0.3,0.6,0.9,1.2,1.5,1.8,2.1], "title": null, "labels": false,
                                     "tickSize": {"condition": {"test": "abs(datum.value/0.6-round(datum.value/0.6))<0.01", "value": -9}, "value": -5}}},
                      "color": {"datum": "GGA"}}},
        {"mark": {"type": "point", "shape": "circle", "filled": false, "fill": "#ffffff", "size": 70, "strokeWidth": 1.2, "opacity": 1},
         "encoding": {"x": {"field": "ca", "type": "quantitative"}, "y": {"field": "GGA", "type": "quantitative", "axis": null}, "color": {"datum": "GGA"}}},
        {"mark": {"type": "line", "strokeWidth": 1.3},
         "encoding": {"x": {"field": "ca", "type": "quantitative"}, "y": {"field": "LDAG", "type": "quantitative", "axis": null}, "color": {"datum": "LDA+G"}}},
        {"mark": {"type": "point", "shape": "triangle-up", "filled": true, "size": 90, "opacity": 1},
         "encoding": {"x": {"field": "ca", "type": "quantitative"}, "y": {"field": "LDAG", "type": "quantitative", "axis": null}, "color": {"datum": "LDA+G"}}},
        {"data": {"name": "labels"}, "transform": [{"filter": "datum.P === 21 && datum.f === 'g'"}],
         "mark": {"type": "text", "font": "Liberation Serif", "fontSize": 28, "baseline": "middle"},
         "encoding": {"x": {"field": "ca", "type": "quantitative"}, "y": {"field": "H", "type": "quantitative", "axis": null}, "text": {"field": "t"}}},
        {"data": {"name": "labels"}, "transform": [{"filter": "datum.P === 21 && datum.f === 's'"}],
         "mark": {"type": "text", "fontSize": 27, "baseline": "middle"},
         "encoding": {"x": {"field": "ca", "type": "quantitative"}, "y": {"field": "H", "type": "quantitative", "axis": null}, "text": {"field": "t"}}},
        {"data": {"name": "titles"}, "transform": [{"filter": "datum.P === 21"}],
         "mark": {"type": "text", "text": "P", "fontStyle": "italic", "align": "right", "baseline": "middle", "fontSize": 26},
         "encoding": {"x": {"field": "ca", "type": "quantitative"}, "y": {"field": "H", "type": "quantitative", "axis": null}}},
        {"data": {"name": "titles"}, "transform": [{"filter": "datum.P === 21"}],
         "mark": {"type": "text", "align": "left", "baseline": "middle", "fontSize": 26},
         "encoding": {"x": {"field": "ca", "type": "quantitative"}, "y": {"field": "H", "type": "quantitative", "axis": null}, "text": {"field": "v"}}}
      ]
    },
    {
      "width": 303, "height": 252,
      "data": {"name": "h"},
      "transform": [{"filter": "datum.P === 25"}],
      "resolve": {"axis": {"y": "independent"}},
      "layer": [
        {"mark": {"type": "line", "strokeWidth": 1.3},
         "encoding": {
           "x": {"field": "ca", "type": "quantitative", "scale": {"domain": [1.36, 1.72], "nice": false, "zero": false},
                 "axis": {"values": [1.4,1.45,1.5,1.55,1.6,1.65,1.7], "labelPadding": 18,
                          "labelExpr": "abs(datum.value*10-round(datum.value*10))<0.01 ? format(datum.value,'.1f') : ''",
                          "title": "c/a", "titleFont": "Liberation Serif", "titleFontStyle": "italic", "titleFontSize": 32, "titlePadding": 6,
                          "tickSize": {"condition": {"test": "abs(datum.value*10-round(datum.value*10))<0.01", "value": -9}, "value": -5}}},
           "y": {"field": "LDA", "type": "quantitative", "scale": {"domain": [-0.41, 2.6], "nice": false, "zero": false},
                 "axis": {"values": [-0.3,0,0.3,0.6,0.9,1.2,1.5,1.8,2.1,2.4], "title": null, "labelPadding": 16,
                          "labelExpr": "abs(datum.value/0.6-round(datum.value/0.6))<0.01 ? format(datum.value,'.1f') : ''",
                          "tickSize": {"condition": {"test": "abs(datum.value/0.6-round(datum.value/0.6))<0.01", "value": -9}, "value": -5}}},
           "color": {"datum": "LDA"}
         }},
        {"mark": {"type": "point", "shape": "square", "filled": false, "fill": "#ffffff", "size": 64, "strokeWidth": 1.2, "opacity": 1},
         "encoding": {"x": {"field": "ca", "type": "quantitative"}, "y": {"field": "LDA", "type": "quantitative", "axis": null}, "color": {"datum": "LDA"}}},
        {"mark": {"type": "line", "strokeWidth": 1.3},
         "encoding": {"x": {"field": "ca", "type": "quantitative"}, "y": {"field": "GGA", "type": "quantitative", "axis": null}, "color": {"datum": "GGA"}}},
        {"mark": {"type": "point", "shape": "circle", "filled": false, "fill": "#ffffff", "size": 70, "strokeWidth": 1.2, "opacity": 1},
         "encoding": {"x": {"field": "ca", "type": "quantitative"}, "y": {"field": "GGA", "type": "quantitative", "axis": null}, "color": {"datum": "GGA"}}},
        {"mark": {"type": "line", "strokeWidth": 1.3},
         "encoding": {"x": {"field": "ca", "type": "quantitative"}, "y": {"field": "LDAG", "type": "quantitative", "axis": null}, "color": {"datum": "LDA+G"}}},
        {"mark": {"type": "point", "shape": "triangle-up", "filled": true, "size": 90, "opacity": 1},
         "encoding": {"x": {"field": "ca", "type": "quantitative"}, "y": {"field": "LDAG", "type": "quantitative", "axis": null}, "color": {"datum": "LDA+G"}}},
        {"data": {"name": "labels"}, "transform": [{"filter": "datum.P === 25 && datum.f === 'g'"}],
         "mark": {"type": "text", "font": "Liberation Serif", "fontSize": 28, "baseline": "middle"},
         "encoding": {"x": {"field": "ca", "type": "quantitative"}, "y": {"field": "H", "type": "quantitative", "axis": null}, "text": {"field": "t"}}},
        {"data": {"name": "labels"}, "transform": [{"filter": "datum.P === 25 && datum.f === 's'"}],
         "mark": {"type": "text", "fontSize": 27, "baseline": "middle"},
         "encoding": {"x": {"field": "ca", "type": "quantitative"}, "y": {"field": "H", "type": "quantitative", "axis": null}, "text": {"field": "t"}}},
        {"data": {"name": "titles"}, "transform": [{"filter": "datum.P === 25"}],
         "mark": {"type": "text", "text": "P", "fontStyle": "italic", "align": "right", "baseline": "middle", "fontSize": 26},
         "encoding": {"x": {"field": "ca", "type": "quantitative"}, "y": {"field": "H", "type": "quantitative", "axis": null}}},
        {"data": {"name": "titles"}, "transform": [{"filter": "datum.P === 25"}],
         "mark": {"type": "text", "align": "left", "baseline": "middle", "fontSize": 26},
         "encoding": {"x": {"field": "ca", "type": "quantitative"}, "y": {"field": "H", "type": "quantitative", "axis": null}, "text": {"field": "v"}}}
      ]
    },
    {
      "width": 305, "height": 252,
      "data": {"name": "h"},
      "transform": [{"filter": "datum.P === 29"}],
      "resolve": {"axis": {"y": "independent"}},
      "layer": [
        {"mark": {"type": "line", "strokeWidth": 1.3},
         "encoding": {
           "x": {"field": "ca", "type": "quantitative", "scale": {"domain": [1.36, 1.72], "nice": false, "zero": false},
                 "axis": {"values": [1.4,1.45,1.5,1.55,1.6,1.65,1.7], "labelPadding": 18,
                          "labelExpr": "abs(datum.value*10-round(datum.value*10))<0.01 ? format(datum.value,'.1f') : ''",
                          "title": "c/a", "titleFont": "Liberation Serif", "titleFontStyle": "italic", "titleFontSize": 32, "titlePadding": 6,
                          "tickSize": {"condition": {"test": "abs(datum.value*10-round(datum.value*10))<0.01", "value": -9}, "value": -5}}},
           "y": {"field": "LDA", "type": "quantitative", "scale": {"domain": [-0.63, 3.99], "nice": false, "zero": false},
                 "axis": {"orient": "right", "values": [-0.4,0,0.4,0.8,1.2,1.6,2,2.4,2.8,3.2,3.6], "title": null, "labelPadding": 20,
                          "labelExpr": "abs(datum.value/0.8-round(datum.value/0.8))<0.01 ? format(datum.value,'.1f') : ''",
                          "tickSize": {"condition": {"test": "abs(datum.value/0.8-round(datum.value/0.8))<0.01", "value": -9}, "value": -5}}},
           "color": {"datum": "LDA"}
         }},
        {"mark": {"type": "point", "shape": "square", "filled": false, "fill": "#ffffff", "size": 64, "strokeWidth": 1.2, "opacity": 1},
         "encoding": {"x": {"field": "ca", "type": "quantitative"}, "y": {"field": "LDA", "type": "quantitative", "axis": null}, "color": {"datum": "LDA"}}},
        {"mark": {"type": "line", "strokeWidth": 1.3},
         "encoding": {"x": {"field": "ca", "type": "quantitative"},
                      "y": {"field": "GGA", "type": "quantitative",
                            "axis": {"orient": "left", "values": [-0.4,0,0.4,0.8,1.2,1.6,2,2.4,2.8,3.2,3.6], "title": null, "labels": false,
                                     "tickSize": {"condition": {"test": "abs(datum.value/0.8-round(datum.value/0.8))<0.01", "value": -9}, "value": -5}}},
                      "color": {"datum": "GGA"}}},
        {"mark": {"type": "point", "shape": "circle", "filled": false, "fill": "#ffffff", "size": 70, "strokeWidth": 1.2, "opacity": 1},
         "encoding": {"x": {"field": "ca", "type": "quantitative"}, "y": {"field": "GGA", "type": "quantitative", "axis": null}, "color": {"datum": "GGA"}}},
        {"mark": {"type": "line", "strokeWidth": 1.3},
         "encoding": {"x": {"field": "ca", "type": "quantitative"}, "y": {"field": "LDAG", "type": "quantitative", "axis": null}, "color": {"datum": "LDA+G"}}},
        {"mark": {"type": "point", "shape": "triangle-up", "filled": true, "size": 90, "opacity": 1},
         "encoding": {"x": {"field": "ca", "type": "quantitative"}, "y": {"field": "LDAG", "type": "quantitative", "axis": null}, "color": {"datum": "LDA+G"}}},
        {"data": {"name": "labels"}, "transform": [{"filter": "datum.P === 29 && datum.f === 'g'"}],
         "mark": {"type": "text", "font": "Liberation Serif", "fontSize": 28, "baseline": "middle"},
         "encoding": {"x": {"field": "ca", "type": "quantitative"}, "y": {"field": "H", "type": "quantitative", "axis": null}, "text": {"field": "t"}}},
        {"data": {"name": "labels"}, "transform": [{"filter": "datum.P === 29 && datum.f === 's'"}],
         "mark": {"type": "text", "fontSize": 27, "baseline": "middle"},
         "encoding": {"x": {"field": "ca", "type": "quantitative"}, "y": {"field": "H", "type": "quantitative", "axis": null}, "text": {"field": "t"}}},
        {"data": {"name": "titles"}, "transform": [{"filter": "datum.P === 29"}],
         "mark": {"type": "text", "text": "P", "fontStyle": "italic", "align": "right", "baseline": "middle", "fontSize": 26},
         "encoding": {"x": {"field": "ca", "type": "quantitative"}, "y": {"field": "H", "type": "quantitative", "axis": null}}},
        {"data": {"name": "titles"}, "transform": [{"filter": "datum.P === 29"}],
         "mark": {"type": "text", "align": "left", "baseline": "middle", "fontSize": 26},
         "encoding": {"x": {"field": "ca", "type": "quantitative"}, "y": {"field": "H", "type": "quantitative", "axis": null}, "text": {"field": "v"}}}
      ]
    }
  ]
}
